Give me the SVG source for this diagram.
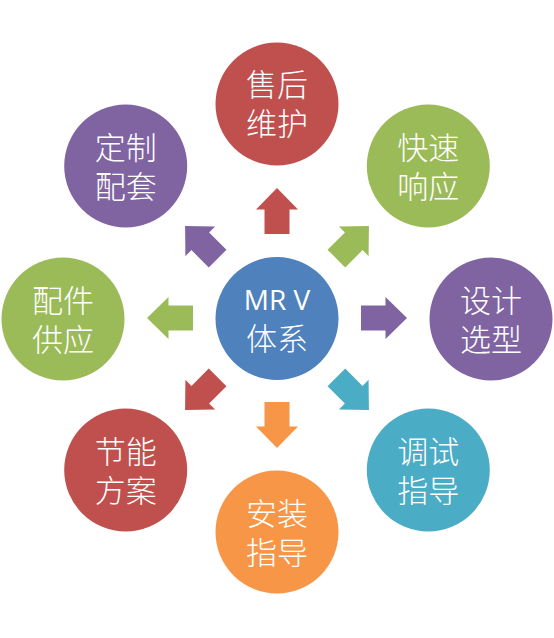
<svg xmlns="http://www.w3.org/2000/svg" width="554" height="638" viewBox="0 0 554 638">
  <style>
    .node-circle { stroke: none; }
    .label { fill: #ffffff; font-family: "Noto Sans CJK SC", "Liberation Sans", sans-serif; font-size: 31px; font-weight: 300; text-anchor: middle; }
    .latin { font-family: "Open Sans", "Liberation Sans", sans-serif; font-size: 28px; font-weight: 400; }
    .red { fill: #C0504D; }
    .green { fill: #9BBB59; }
    .purple { fill: #8064A2; }
    .teal { fill: #4BACC6; }
    .orange { fill: #F79646; }
    .blue { fill: #4F81BD; }
  </style>
  <defs>
    <path id="arrow" d="M84,-12.5 H108.5 V-21 L130,0 L108.5,21 V12.5 H84 Z"/>
  </defs>
  <rect width="554" height="638" fill="#ffffff"/>

  <g id="connectors">
    <use href="#arrow" class="red" transform="translate(277,318) rotate(-90)"/>
    <use href="#arrow" class="green" transform="translate(277,318) rotate(-45)"/>
    <use href="#arrow" class="purple" transform="translate(277,318) rotate(0)"/>
    <use href="#arrow" class="teal" transform="translate(277,318) rotate(45)"/>
    <use href="#arrow" class="orange" transform="translate(277,318) rotate(90)"/>
    <use href="#arrow" class="red" transform="translate(277,318) rotate(135)"/>
    <use href="#arrow" class="green" transform="translate(277,318) rotate(180)"/>
    <use href="#arrow" class="purple" transform="translate(277,318) rotate(225)"/>
  </g>

  <g id="center">
    <circle class="node-circle blue" cx="277" cy="318.5" r="61.5"/>
    <text class="label" x="277" y="310"><tspan class="latin">MR V</tspan><tspan x="277" dy="39.5">体系</tspan></text>
  </g>

  <g id="shouhou">
    <circle class="node-circle red" cx="277" cy="104" r="61.5"/>
    <text class="label" x="277" y="96">售后<tspan x="277" dy="39">维护</tspan></text>
  </g>

  <g id="kuaisu">
    <circle class="node-circle green" cx="428.3" cy="166" r="61.5"/>
    <text class="label" x="428.3" y="158.5">快速<tspan x="428.3" dy="39">响应</tspan></text>
  </g>

  <g id="sheji">
    <circle class="node-circle purple" cx="491" cy="319" r="61.5"/>
    <text class="label" x="491" y="311.5">设计<tspan x="491" dy="39">选型</tspan></text>
  </g>

  <g id="tiaoshi">
    <circle class="node-circle teal" cx="428.3" cy="470" r="61.5"/>
    <text class="label" x="428.3" y="462.5">调试<tspan x="428.3" dy="39">指导</tspan></text>
  </g>

  <g id="anzhuang">
    <circle class="node-circle orange" cx="277" cy="532" r="61.5"/>
    <text class="label" x="277" y="524.5">安装<tspan x="277" dy="39">指导</tspan></text>
  </g>

  <g id="jieneng">
    <circle class="node-circle red" cx="125.7" cy="470" r="61.5"/>
    <text class="label" x="125.7" y="462.5">节能<tspan x="125.7" dy="39">方案</tspan></text>
  </g>

  <g id="peijian">
    <circle class="node-circle green" cx="63" cy="319" r="61.5"/>
    <text class="label" x="63" y="311.5">配件<tspan x="63" dy="39">供应</tspan></text>
  </g>

  <g id="dingzhi">
    <circle class="node-circle purple" cx="125.7" cy="166" r="61.5"/>
    <text class="label" x="125.7" y="158.5">定制<tspan x="125.7" dy="39">配套</tspan></text>
  </g>
</svg>
